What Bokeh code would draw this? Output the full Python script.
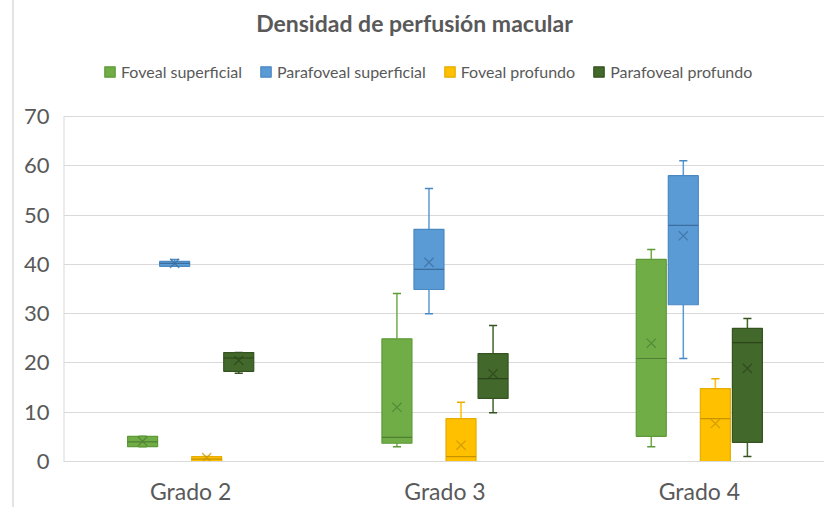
from bokeh.plotting import figure
from bokeh.models import Range1d, FactorRange, Legend, LegendItem, FixedTicker, Label, ColumnDataSource
from bokeh.transform import dodge
from bokeh.embed import file_html
from bokeh.resources import INLINE

grados = ["Grado 2", "Grado 3", "Grado 4"]
series = ["Foveal superficial", "Parafoveal superficial", "Foveal profundo", "Parafoveal profundo"]

# five-number summaries + mean per grado (Grado 2, Grado 3, Grado 4)
fs_min = [3.0, 3.0, 3.0]
fs_q1 = [3.0, 3.7, 5.1]
fs_med = [4.0, 4.9, 20.9]
fs_q3 = [5.1, 24.9, 41.0]
fs_max = [5.1, 34.1, 43.0]
fs_mean = [4.1, 11.0, 24.0]

ps_min = [39.6, 30.0, 20.9]
ps_q1 = [39.6, 34.9, 31.8]
ps_med = [40.2, 39.0, 47.9]
ps_q3 = [40.6, 47.1, 58.0]
ps_max = [41.0, 55.4, 61.0]
ps_mean = [40.2, 40.4, 45.8]

fp_min = [0.0, 0.0, 0.0]
fp_q1 = [0.0, 0.0, 0.0]
fp_med = [0.5, 1.0, 8.7]
fp_q3 = [1.0, 8.7, 14.8]
fp_max = [1.0, 12.0, 16.8]
fp_mean = [0.8, 3.3, 7.7]

pp_min = [17.9, 9.9, 1.0]
pp_q1 = [18.3, 12.8, 3.9]
pp_med = [21.0, 16.8, 24.1]
pp_q3 = [22.1, 21.9, 27.0]
pp_max = [22.1, 27.6, 29.0]
pp_mean = [20.5, 17.8, 18.9]

data = [
    (fs_min, fs_q1, fs_med, fs_q3, fs_max, fs_mean),
    (ps_min, ps_q1, ps_med, ps_q3, ps_max, ps_mean),
    (fp_min, fp_q1, fp_med, fp_q3, fp_max, fp_mean),
    (pp_min, pp_q1, pp_med, pp_q3, pp_max, pp_mean),
]
fills = ["#70AD47", "#5B9BD5", "#FFC000", "#43682B"]
edges = ["#5E9A38", "#4A88C2", "#E6AC00", "#355321"]
marks = ["#4E7F33", "#3B6E9E", "#C79400", "#2B441B"]

y_ticks = [0, 10, 20, 30, 40, 50, 60, 70]

# frame spans from the top of the picture down to the zero line;
# 70 units occupy 345 px, so the frame (461 px) covers ~93.5 units
FRAME_H = 461
Y_TOP = y_ticks[-1] * FRAME_H / 345.0

p = figure(width=812, height=507, output_backend="svg", toolbar_location=None,
           x_range=FactorRange(factors=grados, range_padding=0), y_range=Range1d(0, Y_TOP),
           min_border_left=49, min_border_right=0, min_border_bottom=46, min_border_top=0)
p.styles = {"margin-left": "12px", "border-left": "2px solid #E3E3E3"}
p.outline_line_color = None
p.background_fill_color = "white"
p.border_fill_color = "white"

p.xgrid.visible = False
p.ygrid.grid_line_color = "#D9D9D9"
p.ygrid.grid_line_width = 1

p.yaxis.ticker = FixedTicker(ticks=y_ticks)
p.yaxis.axis_line_color = None
p.yaxis.major_tick_line_color = None
p.yaxis.minor_tick_line_color = None
p.yaxis.major_tick_out = 0
p.yaxis.major_label_text_font = "Lato"
p.yaxis.major_label_text_font_size = "22px"
p.yaxis.major_label_text_color = "#595959"
p.yaxis.major_label_standoff = 14

p.xaxis.axis_line_color = "#D9D9D9"
p.xaxis.major_tick_line_color = None
p.xaxis.minor_tick_line_color = None
p.xaxis.major_tick_out = 0
p.xaxis.major_label_text_font = "Lato"
p.xaxis.major_label_text_font_size = "23px"
p.xaxis.major_label_text_color = "#595959"
p.xaxis.major_label_standoff = 15

# vertical value-axis line from 0 to 70 at the left edge of the frame
p.segment(x0=[0], y0=[y_ticks[0]], x1=[0], y1=[y_ticks[-1]], line_color="#D9D9D9", line_width=2)

step = 0.126
bw = 0.118
cap = 0.016
items = []
for i, (name, (mn, q1, med, q3, mx, mean)) in enumerate(zip(series, data)):
    off = (i - 1.5) * step
    src = ColumnDataSource(dict(g=grados, mn=mn, q1=q1, med=med, q3=q3, mx=mx, mean=mean))
    xc = dodge("g", off, range=p.x_range)
    xl = dodge("g", off - bw / 2, range=p.x_range)
    xr = dodge("g", off + bw / 2, range=p.x_range)
    cl = dodge("g", off - cap, range=p.x_range)
    cr = dodge("g", off + cap, range=p.x_range)
    p.segment(x0=xc, y0="q3", x1=xc, y1="mx", source=src, line_color=fills[i], line_width=1.5)
    p.segment(x0=xc, y0="q1", x1=xc, y1="mn", source=src, line_color=fills[i], line_width=1.5)
    p.segment(x0=cl, y0="mx", x1=cr, y1="mx", source=src, line_color=edges[i], line_width=1.5)
    p.segment(x0=cl, y0="mn", x1=cr, y1="mn", source=src, line_color=edges[i], line_width=1.5)
    r = p.quad(left=xl, right=xr, bottom="q1", top="q3", source=src,
               fill_color=fills[i], line_color=edges[i], line_width=1.2)
    p.segment(x0=xl, y0="med", x1=xr, y1="med", source=src, line_color=marks[i], line_width=1.2)
    p.scatter(x=xc, y="mean", source=src, marker="x", size=13, line_color=marks[i],
              line_width=1.3, line_alpha=0.75)
    items.append(LegendItem(label=name, renderers=[r]))

legend = Legend(items=items, orientation="horizontal", location=(40, 380),
                border_line_color=None, background_fill_alpha=0,
                label_text_font="Lato", label_text_font_size="16px",
                label_text_color="#595959", glyph_width=13, glyph_height=13,
                label_standoff=5, spacing=17, margin=0, padding=4)
p.add_layout(legend, "center")

title = Label(x=351, y=FRAME_H - 22, x_units="screen", y_units="screen",
              text="Densidad de perfusión macular", text_align="center",
              text_baseline="middle", text_font="Lato", text_font_size="23px",
              text_font_style="bold", text_color="#595959")
p.add_layout(title)

open("out.html", "w").write(file_html(p, INLINE))
